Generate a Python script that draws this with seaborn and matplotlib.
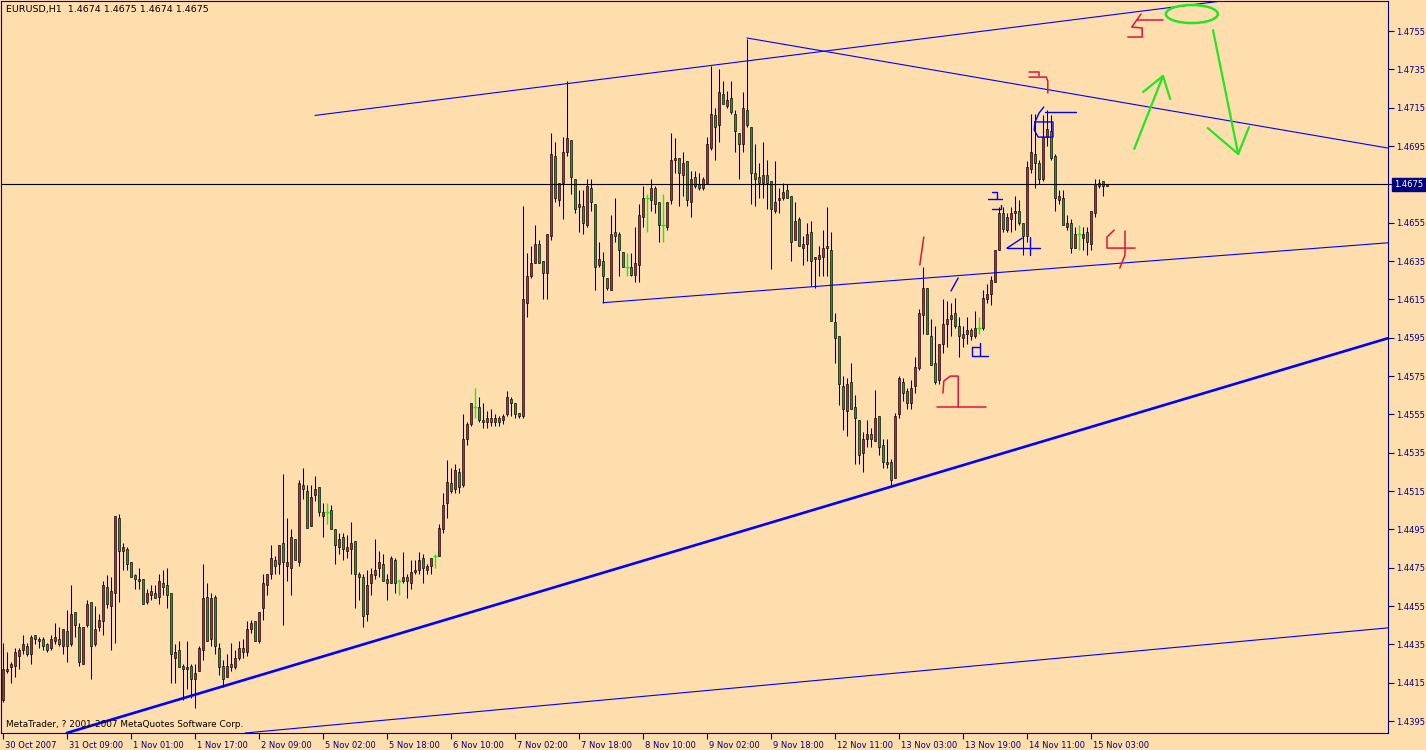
import numpy as np
import pandas as pd
import matplotlib
matplotlib.use("Agg")
import matplotlib.pyplot as plt
import matplotlib.transforms as mtransforms
from matplotlib.patches import Ellipse
import seaborn as sns

# ---------------------------------------------------------------
# EURUSD H1 candles, 30 Oct 2007 17:00 .. 15 Nov 2007 07:00
# ---------------------------------------------------------------
opens = [
    1.4406, 1.4421, 1.4423, 1.4424, 1.4429, 1.4432, 1.4434, 1.4430, 1.4440, 1.4437,
    1.4438, 1.4435, 1.4433, 1.4437, 1.4438, 1.4434, 1.4442, 1.4435, 1.4452, 1.4444,
    1.4425, 1.4445, 1.4457, 1.4435, 1.4444, 1.4447, 1.4465, 1.4455, 1.4462, 1.4501,
    1.4484, 1.4485, 1.4478, 1.4471, 1.4468, 1.4469, 1.4457, 1.4461, 1.4462, 1.4460,
    1.4467, 1.4466, 1.4462, 1.4428, 1.4432, 1.4424, 1.4422, 1.4424, 1.4417, 1.4421,
    1.4432, 1.4460, 1.4438, 1.4460, 1.4433, 1.4424, 1.4418, 1.4425, 1.4423, 1.4428,
    1.4433, 1.4431, 1.4443, 1.4447, 1.4437, 1.4454, 1.4466, 1.4472, 1.4479, 1.4477,
    1.4488, 1.4476, 1.4475, 1.4490, 1.4478, 1.4518, 1.4515, 1.4497, 1.4513, 1.4517,
    1.4502, 1.4504, 1.4505, 1.4495, 1.4486, 1.4491, 1.4484, 1.4485, 1.4489, 1.4472,
    1.4470, 1.4451, 1.4467, 1.4471, 1.4475, 1.4477, 1.4469, 1.4467, 1.4479, 1.4468,
    1.4468, 1.4470, 1.4467, 1.4473, 1.4474, 1.4480, 1.4474, 1.4476, 1.4481, 1.4481,
    1.4495, 1.4509, 1.4519, 1.4516, 1.4525, 1.4518, 1.4542, 1.4550, 1.4559, 1.4559,
    1.4552, 1.4551, 1.4553, 1.4551, 1.4553, 1.4552, 1.4555, 1.4563, 1.4561, 1.4556,
    1.4554, 1.4613, 1.4627, 1.4634, 1.4644, 1.4635, 1.4629, 1.4648, 1.4690, 1.4667,
    1.4676, 1.4692, 1.4698, 1.4678, 1.4663, 1.4664, 1.4654, 1.4673, 1.4665, 1.4633,
    1.4635, 1.4626, 1.4620, 1.4650, 1.4649, 1.4640, 1.4632, 1.4632, 1.4628, 1.4633,
    1.4658, 1.4668, 1.4667, 1.4673, 1.4666, 1.4654, 1.4653, 1.4667, 1.4688, 1.4689,
    1.4680, 1.4687, 1.4666, 1.4679, 1.4675, 1.4673, 1.4676, 1.4694, 1.4711, 1.4706,
    1.4722, 1.4716, 1.4720, 1.4712, 1.4702, 1.4696, 1.4714, 1.4705, 1.4681, 1.4679,
    1.4676, 1.4680, 1.4677, 1.4661, 1.4667, 1.4668, 1.4672, 1.4669, 1.4646, 1.4657,
    1.4642, 1.4644, 1.4650, 1.4636, 1.4636, 1.4637, 1.4643, 1.4641, 1.4603, 1.4596,
    1.4570, 1.4557, 1.4572, 1.4559, 1.4552, 1.4535, 1.4542, 1.4545, 1.4541, 1.4554,
    1.4539, 1.4530, 1.4530, 1.4522, 1.4555, 1.4572, 1.4567, 1.4561, 1.4570, 1.4579,
    1.4607, 1.4621, 1.4596, 1.4582, 1.4573, 1.4592, 1.4602, 1.4605, 1.4608, 1.4601,
    1.4595, 1.4597, 1.4599, 1.4596, 1.4600, 1.4600, 1.4615, 1.4618, 1.4624, 1.4641,
    1.4660, 1.4651, 1.4657, 1.4660, 1.4661, 1.4655, 1.4648, 1.4683, 1.4691, 1.4686,
    1.4678, 1.4700, 1.4703, 1.4690, 1.4667, 1.4668, 1.4653, 1.4655, 1.4642, 1.4649,
    1.4647, 1.4650, 1.4644, 1.4660, 1.4674, 1.4677, 1.4674,
]
highs = [
    1.4436, 1.4431, 1.4426, 1.4433, 1.4433, 1.4440, 1.4436, 1.4440, 1.4440, 1.4439,
    1.4439, 1.4436, 1.4440, 1.4446, 1.4444, 1.4443, 1.4453, 1.4466, 1.4452, 1.4446,
    1.4444, 1.4458, 1.4457, 1.4455, 1.4451, 1.4468, 1.4471, 1.4470, 1.4502, 1.4503,
    1.4488, 1.4486, 1.4478, 1.4472, 1.4475, 1.4469, 1.4464, 1.4466, 1.4466, 1.4472,
    1.4474, 1.4475, 1.4462, 1.4435, 1.4437, 1.4425, 1.4437, 1.4425, 1.4425, 1.4434,
    1.4477, 1.4467, 1.4462, 1.4461, 1.4436, 1.4427, 1.4430, 1.4436, 1.4432, 1.4437,
    1.4438, 1.4447, 1.4448, 1.4447, 1.4452, 1.4472, 1.4472, 1.4487, 1.4481, 1.4487,
    1.4524, 1.4501, 1.4495, 1.4490, 1.4521, 1.4527, 1.4518, 1.4518, 1.4523, 1.4517,
    1.4509, 1.4509, 1.4508, 1.4495, 1.4493, 1.4493, 1.4492, 1.4499, 1.4489, 1.4473,
    1.4472, 1.4474, 1.4475, 1.4490, 1.4484, 1.4482, 1.4472, 1.4481, 1.4480, 1.4469,
    1.4483, 1.4472, 1.4479, 1.4479, 1.4483, 1.4482, 1.4477, 1.4480, 1.4482, 1.4498,
    1.4514, 1.4531, 1.4527, 1.4529, 1.4527, 1.4555, 1.4551, 1.4561, 1.4569, 1.4564,
    1.4561, 1.4557, 1.4558, 1.4555, 1.4554, 1.4555, 1.4567, 1.4564, 1.4561, 1.4556,
    1.4664, 1.4639, 1.4643, 1.4654, 1.4646, 1.4635, 1.4649, 1.4702, 1.4697, 1.4676,
    1.4700, 1.4729, 1.4698, 1.4678, 1.4672, 1.4672, 1.4678, 1.4678, 1.4665, 1.4645,
    1.4640, 1.4626, 1.4659, 1.4668, 1.4650, 1.4640, 1.4639, 1.4639, 1.4653, 1.4665,
    1.4674, 1.4670, 1.4678, 1.4674, 1.4666, 1.4670, 1.4666, 1.4702, 1.4699, 1.4689,
    1.4692, 1.4687, 1.4682, 1.4682, 1.4681, 1.4679, 1.4700, 1.4737, 1.4715, 1.4735,
    1.4729, 1.4724, 1.4729, 1.4714, 1.4702, 1.4723, 1.4751, 1.4705, 1.4696, 1.4686,
    1.4697, 1.4688, 1.4677, 1.4687, 1.4673, 1.4676, 1.4675, 1.4669, 1.4666, 1.4658,
    1.4648, 1.4655, 1.4656, 1.4637, 1.4643, 1.4651, 1.4663, 1.4650, 1.4608, 1.4596,
    1.4575, 1.4574, 1.4582, 1.4565, 1.4552, 1.4546, 1.4552, 1.4548, 1.4568, 1.4554,
    1.4542, 1.4542, 1.4532, 1.4556, 1.4575, 1.4574, 1.4569, 1.4573, 1.4585, 1.4610,
    1.4632, 1.4621, 1.4605, 1.4601, 1.4592, 1.4615, 1.4614, 1.4613, 1.4616, 1.4606,
    1.4601, 1.4606, 1.4600, 1.4609, 1.4606, 1.4620, 1.4623, 1.4627, 1.4641, 1.4663,
    1.4663, 1.4660, 1.4663, 1.4669, 1.4667, 1.4655, 1.4687, 1.4712, 1.4712, 1.4688,
    1.4711, 1.4714, 1.4711, 1.4691, 1.4672, 1.4672, 1.4659, 1.4657, 1.4653, 1.4654,
    1.4653, 1.4653, 1.4661, 1.4678, 1.4678, 1.4677, 1.4675,
]
lows = [
    1.4405, 1.4420, 1.4415, 1.4418, 1.4422, 1.4430, 1.4429, 1.4425, 1.4435, 1.4433,
    1.4432, 1.4431, 1.4432, 1.4435, 1.4434, 1.4430, 1.4426, 1.4434, 1.4439, 1.4424,
    1.4425, 1.4444, 1.4417, 1.4434, 1.4442, 1.4440, 1.4454, 1.4432, 1.4436, 1.4457,
    1.4474, 1.4474, 1.4470, 1.4464, 1.4464, 1.4456, 1.4456, 1.4458, 1.4459, 1.4456,
    1.4461, 1.4454, 1.4415, 1.4415, 1.4423, 1.4406, 1.4412, 1.4407, 1.4402, 1.4421,
    1.4427, 1.4437, 1.4434, 1.4430, 1.4419, 1.4413, 1.4418, 1.4421, 1.4422, 1.4427,
    1.4428, 1.4429, 1.4441, 1.4437, 1.4436, 1.4448, 1.4461, 1.4469, 1.4472, 1.4472,
    1.4445, 1.4468, 1.4461, 1.4479, 1.4476, 1.4511, 1.4496, 1.4497, 1.4510, 1.4502,
    1.4491, 1.4498, 1.4495, 1.4477, 1.4482, 1.4479, 1.4480, 1.4472, 1.4454, 1.4458,
    1.4444, 1.4447, 1.4461, 1.4469, 1.4470, 1.4468, 1.4458, 1.4467, 1.4462, 1.4461,
    1.4467, 1.4459, 1.4464, 1.4472, 1.4472, 1.4467, 1.4472, 1.4472, 1.4475, 1.4481,
    1.4493, 1.4501, 1.4514, 1.4514, 1.4514, 1.4517, 1.4539, 1.4549, 1.4553, 1.4551,
    1.4548, 1.4548, 1.4549, 1.4549, 1.4549, 1.4550, 1.4554, 1.4554, 1.4553, 1.4553,
    1.4553, 1.4606, 1.4626, 1.4634, 1.4634, 1.4615, 1.4615, 1.4646, 1.4666, 1.4664,
    1.4657, 1.4690, 1.4670, 1.4660, 1.4650, 1.4649, 1.4653, 1.4661, 1.4620, 1.4632,
    1.4613, 1.4620, 1.4620, 1.4645, 1.4627, 1.4632, 1.4627, 1.4627, 1.4624, 1.4624,
    1.4653, 1.4650, 1.4661, 1.4660, 1.4645, 1.4645, 1.4651, 1.4665, 1.4681, 1.4664,
    1.4669, 1.4664, 1.4658, 1.4673, 1.4672, 1.4672, 1.4676, 1.4693, 1.4688, 1.4697,
    1.4717, 1.4715, 1.4712, 1.4692, 1.4678, 1.4692, 1.4705, 1.4665, 1.4664, 1.4668,
    1.4668, 1.4662, 1.4631, 1.4660, 1.4660, 1.4667, 1.4668, 1.4635, 1.4646, 1.4643,
    1.4633, 1.4635, 1.4622, 1.4621, 1.4627, 1.4627, 1.4627, 1.4604, 1.4582, 1.4560,
    1.4547, 1.4544, 1.4558, 1.4529, 1.4529, 1.4525, 1.4538, 1.4538, 1.4541, 1.4534,
    1.4527, 1.4527, 1.4517, 1.4522, 1.4553, 1.4562, 1.4558, 1.4558, 1.4566, 1.4578,
    1.4597, 1.4597, 1.4581, 1.4571, 1.4571, 1.4587, 1.4590, 1.4596, 1.4600, 1.4585,
    1.4590, 1.4592, 1.4594, 1.4595, 1.4597, 1.4599, 1.4613, 1.4612, 1.4624, 1.4641,
    1.4650, 1.4650, 1.4650, 1.4651, 1.4654, 1.4638, 1.4645, 1.4681, 1.4673, 1.4675,
    1.4677, 1.4695, 1.4688, 1.4661, 1.4665, 1.4654, 1.4651, 1.4639, 1.4642, 1.4641,
    1.4641, 1.4638, 1.4641, 1.4658, 1.4673, 1.4669, 1.4674,
]
closes = [
    1.4422, 1.4422, 1.4425, 1.4431, 1.4432, 1.4435, 1.4430, 1.4439, 1.4438, 1.4438,
    1.4434, 1.4432, 1.4438, 1.4439, 1.4435, 1.4443, 1.4434, 1.4451, 1.4445, 1.4426,
    1.4444, 1.4456, 1.4434, 1.4443, 1.4448, 1.4466, 1.4456, 1.4463, 1.4502, 1.4484,
    1.4486, 1.4477, 1.4470, 1.4469, 1.4469, 1.4456, 1.4462, 1.4463, 1.4459, 1.4468,
    1.4465, 1.4461, 1.4430, 1.4431, 1.4423, 1.4422, 1.4423, 1.4417, 1.4420, 1.4433,
    1.4459, 1.4437, 1.4459, 1.4434, 1.4423, 1.4417, 1.4424, 1.4423, 1.4428, 1.4433,
    1.4431, 1.4443, 1.4446, 1.4437, 1.4452, 1.4467, 1.4472, 1.4480, 1.4476, 1.4487,
    1.4478, 1.4478, 1.4491, 1.4479, 1.4519, 1.4516, 1.4496, 1.4512, 1.4516, 1.4504,
    1.4504, 1.4504, 1.4495, 1.4487, 1.4490, 1.4485, 1.4486, 1.4488, 1.4472, 1.4470,
    1.4450, 1.4466, 1.4472, 1.4474, 1.4478, 1.4468, 1.4467, 1.4480, 1.4467, 1.4468,
    1.4470, 1.4468, 1.4473, 1.4474, 1.4479, 1.4475, 1.4476, 1.4480, 1.4481, 1.4496,
    1.4508, 1.4520, 1.4515, 1.4526, 1.4517, 1.4542, 1.4550, 1.4561, 1.4559, 1.4552,
    1.4551, 1.4553, 1.4551, 1.4553, 1.4551, 1.4554, 1.4564, 1.4561, 1.4555, 1.4554,
    1.4615, 1.4627, 1.4634, 1.4644, 1.4634, 1.4629, 1.4649, 1.4691, 1.4668, 1.4676,
    1.4692, 1.4699, 1.4679, 1.4662, 1.4665, 1.4655, 1.4674, 1.4666, 1.4632, 1.4636,
    1.4627, 1.4621, 1.4649, 1.4648, 1.4641, 1.4632, 1.4632, 1.4628, 1.4634, 1.4659,
    1.4668, 1.4668, 1.4673, 1.4665, 1.4654, 1.4654, 1.4666, 1.4688, 1.4689, 1.4681,
    1.4686, 1.4667, 1.4678, 1.4674, 1.4673, 1.4678, 1.4696, 1.4712, 1.4705, 1.4723,
    1.4717, 1.4719, 1.4713, 1.4703, 1.4696, 1.4715, 1.4706, 1.4681, 1.4678, 1.4676,
    1.4680, 1.4676, 1.4662, 1.4666, 1.4668, 1.4671, 1.4668, 1.4645, 1.4656, 1.4643,
    1.4644, 1.4649, 1.4635, 1.4637, 1.4638, 1.4642, 1.4642, 1.4604, 1.4595, 1.4571,
    1.4558, 1.4571, 1.4558, 1.4553, 1.4534, 1.4542, 1.4545, 1.4542, 1.4553, 1.4538,
    1.4530, 1.4529, 1.4521, 1.4554, 1.4574, 1.4566, 1.4561, 1.4569, 1.4580, 1.4608,
    1.4621, 1.4597, 1.4581, 1.4572, 1.4592, 1.4602, 1.4605, 1.4607, 1.4601, 1.4596,
    1.4597, 1.4599, 1.4596, 1.4600, 1.4600, 1.4616, 1.4618, 1.4625, 1.4641, 1.4660,
    1.4652, 1.4658, 1.4660, 1.4661, 1.4655, 1.4648, 1.4684, 1.4692, 1.4686, 1.4678,
    1.4700, 1.4704, 1.4689, 1.4668, 1.4669, 1.4654, 1.4655, 1.4642, 1.4649, 1.4649,
    1.4649, 1.4645, 1.4661, 1.4675, 1.4676, 1.4674, 1.4675,
]

time_ticks = [0, 16, 32, 48, 64, 80, 96, 112, 128, 144, 160, 176, 192, 208, 224, 240, 256, 272]
time_labels = ["30 Oct 2007", "31 Oct 09:00", "1 Nov 01:00", "1 Nov 17:00", "2 Nov 09:00",
               "5 Nov 02:00", "5 Nov 18:00", "6 Nov 10:00", "7 Nov 02:00", "7 Nov 18:00",
               "8 Nov 10:00", "9 Nov 02:00", "9 Nov 18:00", "12 Nov 11:00", "13 Nov 03:00",
               "13 Nov 19:00", "14 Nov 11:00", "15 Nov 03:00"]
price_ticks = [1.4395, 1.4415, 1.4435, 1.4455, 1.4475, 1.4495, 1.4515, 1.4535, 1.4555, 1.4575,
               1.4595, 1.4615, 1.4635, 1.4655, 1.4675, 1.4695, 1.4715, 1.4735, 1.4755]
bid_price = 1.4675

# trendlines: two anchors (bar, price)
ray_upper = [(78, 1.47110), (258, 1.47584)]
ray_down = [(186, 1.47514), (258, 1.47256)]
ray_mid = [(150, 1.46133), (258, 1.46305)]
line_support = [(31, 1.43982), (222, 1.45173)]
line_bottom = [(160, 1.44079), (346, 1.44436)]

# hand drawn marks (bar, price)
red_marks = [
    [(230.2, 1.46476), (229.2, 1.46330)],
    [(235.0, 1.45662), (235.2, 1.45724), (236.8, 1.45750), (238.8, 1.45750), (238.8, 1.45589)],
    [(233.5, 1.45589), (245.8, 1.45589)],
    [(256.5, 1.47336), (259.0, 1.47336), (259.0, 1.47316)],
    [(256.5, 1.47310), (260.8, 1.47310), (261.2, 1.47289), (261.2, 1.47227)],
    [(277.8, 1.46512), (276.0, 1.46476), (276.0, 1.46418), (283.0, 1.46418)],
    [(280.5, 1.46507), (280.5, 1.46382), (279.2, 1.46314)],
    [(283.5, 1.47608), (290.0, 1.47608)],
    [(284.5, 1.47639), (282.2, 1.47571), (284.8, 1.47566), (284.8, 1.47519), (281.2, 1.47519)],
]
blue_marks = [
    [(260.2, 1.47154), (259.0, 1.47122), (258.0, 1.47076), (257.8, 1.47034), (258.8, 1.46997),
     (262.5, 1.46997), (262.5, 1.47076), (258.0, 1.47076)],
    [(260.5, 1.47128), (268.2, 1.47128)],
    [(247.2, 1.46710), (248.5, 1.46710), (248.5, 1.46674)],
    [(246.2, 1.46674), (249.8, 1.46674)],
    [(249.5, 1.46642), (249.5, 1.46622), (247.2, 1.46622)],
    [(251.0, 1.46418), (254.8, 1.46470)],
    [(251.0, 1.46418), (259.2, 1.46418)],
    [(256.8, 1.46476), (256.8, 1.46382)],
    [(237.0, 1.46194), (238.2, 1.46240), (238.8, 1.46262)],
    [(242.2, 1.45902), (242.2, 1.45855), (246.2, 1.45855)],
    [(244.2, 1.45923), (244.2, 1.45855)],
    [(242.2, 1.45902), (244.2, 1.45902)],
]
green_marks = [
    [(282.8, 1.46935), (290.0, 1.47316)],
    [(285.0, 1.47232), (290.0, 1.47316), (291.8, 1.47196)],
    [(302.5, 1.47555), (308.8, 1.46909)],
    [(301.2, 1.47044), (308.8, 1.46909), (311.5, 1.47049)],
]
green_ellipse = (297.2, 1.47639, 13.0, 0.00094)

# ---------------------------------------------------------------
BG = "#FFDEAD"
FRAME = "#000080"
BULL = "#DC143C"
BEAR = "#1E9A1E"
DOJI = "#00FF00"
TLINE = "#0000FF"
PEN_RED = "#E0143C"
PEN_GREEN = "#22E622"

sns.set_theme(style="white", rc={"axes.facecolor": BG, "figure.facecolor": BG,
                                 "axes.edgecolor": FRAME, "axes.linewidth": 0.8})
plt.rcParams["font.family"] = ["DejaVu Sans"]

df = pd.DataFrame({"open": opens, "high": highs, "low": lows, "close": closes})
df["bar"] = np.arange(len(df))
up = df[df.close > df.open]
dn = df[df.close < df.open]
flat = df[df.close == df.open]
solid = df[df.close != df.open]

fig = plt.figure(figsize=(14.26, 7.5), dpi=100)
ax = fig.add_axes([1 / 1426, 17 / 750, 1387 / 1426, 732 / 750])

# wicks
ax.vlines(solid.bar, solid.low, solid.high, color="black", lw=0.75, zorder=2)
ax.vlines(flat.bar, flat.low, flat.high, color=DOJI, lw=1.0, zorder=2)
ax.hlines(flat.close, flat.bar - 0.45, flat.bar + 0.45, color=DOJI, lw=1.0, zorder=3)
# bodies
ax.bar(up.bar, up.close - up.open, bottom=up.open, width=0.7,
       color=BULL, edgecolor="black", linewidth=0.45, zorder=3)
ax.bar(dn.bar, dn.open - dn.close, bottom=dn.close, width=0.7,
       color=BEAR, edgecolor="black", linewidth=0.45, zorder=3)

# bid line
ax.axhline(bid_price, color="black", lw=0.8, zorder=4)

# trendlines
far_bar = 420
for (b1, p1), (b2, p2) in [ray_upper, ray_down, ray_mid]:
    slope = (p2 - p1) / (b2 - b1)
    ax.plot([b1, far_bar], [p1, p1 + slope * (far_bar - b1)], color=TLINE, lw=0.8, zorder=4)
ax.axline(line_support[0], line_support[1], color=TLINE, lw=1.9, zorder=4)
ax.axline(line_bottom[0], line_bottom[1], color=TLINE, lw=0.8, zorder=4)

# pen marks
for pts in red_marks:
    xs, ys = zip(*pts)
    ax.plot(xs, ys, color=PEN_RED, lw=1.1, zorder=5)
for pts in blue_marks:
    xs, ys = zip(*pts)
    ax.plot(xs, ys, color=TLINE, lw=1.0, zorder=5)
for pts in green_marks:
    xs, ys = zip(*pts)
    ax.plot(xs, ys, color=PEN_GREEN, lw=1.6, zorder=5)
ex, ey, ew, eh = green_ellipse
ax.add_patch(Ellipse((ex, ey), ew, eh, fill=False, ec=PEN_GREEN, lw=1.8, zorder=5))

ax.set_xlim(-0.5, 346.25)
ax.set_ylim(1.43888, 1.47707)

# axes / ticks
ax.yaxis.tick_right()
ax.set_yticks(price_ticks)
ax.set_yticklabels([f"{p:.4f}" for p in price_ticks])
ax.set_xticks(time_ticks)
ax.set_xticklabels(time_labels)
ax.tick_params(axis="y", direction="out", length=4, width=0.8, colors=FRAME,
               labelsize=6, pad=2, left=False, right=True)
ax.tick_params(axis="x", direction="out", length=4, width=0.8, colors=FRAME,
               labelsize=6, pad=1.5, bottom=True)
shift = mtransforms.ScaledTranslation(2 / 100, 0, fig.dpi_scale_trans)
for lab in ax.get_xticklabels():
    lab.set_ha("left")
    lab.set_transform(lab.get_transform() + shift)
for s in ax.spines.values():
    s.set_color(FRAME)
    s.set_linewidth(0.8)
ax.grid(False)

# current price tag
tag_tr = mtransforms.blended_transform_factory(ax.transAxes, ax.transData)
ax.text(1.0043, bid_price, f"{bid_price:.4f}", transform=tag_tr, ha="left", va="center",
        color="white", fontsize=6, zorder=10, clip_on=False,
        bbox=dict(boxstyle="square,pad=0.25", fc=FRAME, ec=FRAME))

ax.text(0.0035, 0.994, "EURUSD,H1  1.4674 1.4675 1.4674 1.4675", transform=ax.transAxes,
        ha="left", va="top", fontsize=6.8, color="black", zorder=10)
ax.text(0.0035, 0.006, "MetaTrader, ? 2001-2007 MetaQuotes Software Corp.", transform=ax.transAxes,
        ha="left", va="bottom", fontsize=6.4, color="black", zorder=10)

fig.savefig("out.png", dpi=100, facecolor=BG)
